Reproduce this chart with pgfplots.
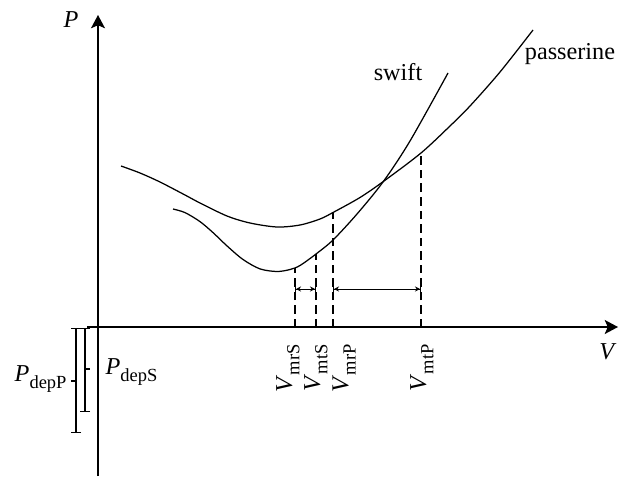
\documentclass[border=0pt]{standalone}
\usepackage{fontspec}
\setmainfont{Liberation Serif}
\usepackage{pgfplots}
\pgfplotsset{compat=1.18}
\usetikzlibrary{arrows.meta}
\newcommand\sub[1]{\raisebox{-0.3em}{\fontsize{7.4}{8}\selectfont #1}}
\begin{document}
\begin{tikzpicture}[font=\fontsize{9.7}{11}\selectfont]
\begin{axis}[
  width=250pt, height=191.6pt, scale only axis,
  xmin=0, xmax=625, ymin=0, ymax=479, y dir=reverse,
  hide axis, clip=false,
]
\path[use as bounding box] (axis cs:0,0) rectangle (axis cs:625,479);
% axes
\addplot[line width=0.6pt, -{Stealth[length=5.3pt,width=5.6pt,inset=1.2pt]}] coordinates {(98,476) (98,15)};
\addplot[line width=0.6pt, -{Stealth[length=5.3pt,width=5.6pt,inset=1.2pt]}] coordinates {(87,327) (618,327)};
% passerine
\addplot[line width=0.5pt, smooth, tension=0.5] coordinates {
(121,166)(140,173)(160,182)(185,195)(200,203)(227,216)(250,223)(277,227)(300,225)(320,219)(333,212.5)(360,197.5)(384,181)(421,153)(450,126)(470,106)(500,72)(533,30)};
% swift
\addplot[line width=0.5pt, smooth, tension=0.5] coordinates {
(173,209)(185,212.6)(200,221.6)(213,232.6)(227,245.9)(243,259.5)(260,268.9)(277,271.5)(290,269.5)(300,265.5)(316,254)(333,240)(357,214)(383,182)(410,141)(448,73)};
% dashed verticals
\addplot[line width=0.6pt, dash pattern=on 3.4pt off 2pt] coordinates {(295,327)(295,267.5)};
\addplot[line width=0.6pt, dash pattern=on 3.4pt off 2pt] coordinates {(316,327)(316,254)};
\addplot[line width=0.6pt, dash pattern=on 3.4pt off 2pt] coordinates {(333,327)(333,212.5)};
\addplot[line width=0.6pt, dash pattern=on 3.4pt off 2pt] coordinates {(421,327)(421,153)};
% horizontal range arrows
\addplot[line width=0.4pt, {Bar[width=4pt]Stealth[length=2pt,width=2pt]}-{Stealth[length=2pt,width=2pt]Bar[width=4pt]}] coordinates {(295,289)(316,289)};
\addplot[line width=0.4pt, {Bar[width=4pt]Stealth[length=2pt,width=2pt]}-{Stealth[length=2pt,width=2pt]Bar[width=4pt]}] coordinates {(333,289)(421,289)};
% P_dep bars
\addplot[line width=0.5pt, {Bar[width=4pt]}-{Bar[width=4pt]}] coordinates {(76,328)(76,433)};
\addplot[line width=0.5pt] coordinates {(71,381)(76,381)};
\addplot[line width=0.5pt, {Bar[width=4pt]}-{Bar[width=4pt]}] coordinates {(85,328)(85,412)};
\addplot[line width=0.5pt] coordinates {(85,369)(90,369)};
% labels
\node[anchor=east, inner sep=0pt] at (axis cs:67,379) {\textit{P}\sub{depP}};
\node[anchor=west, inner sep=0pt] at (axis cs:105,372) {\textit{P}\sub{depS}};
\node[inner sep=0pt] at (axis cs:71,20) {\textit{P}};
\node[inner sep=0pt] at (axis cs:608,352) {\textit{V}};
\node[inner sep=0pt] at (axis cs:398,72) {swift};
\node[inner sep=0pt] at (axis cs:570,54) {passerine};
\node[rotate=90, anchor=east, inner sep=0pt] at (axis cs:288,344) {\textit{V}\sub{mrS}};
\node[rotate=90, anchor=east, inner sep=0pt] at (axis cs:316,344) {\textit{V}\sub{mtS}};
\node[rotate=90, anchor=east, inner sep=0pt] at (axis cs:344,344) {\textit{V}\sub{mrP}};
\node[rotate=90, anchor=east, inner sep=0pt] at (axis cs:422,344) {\textit{V}\sub{mtP}};
\end{axis}
\end{tikzpicture}
\end{document}
